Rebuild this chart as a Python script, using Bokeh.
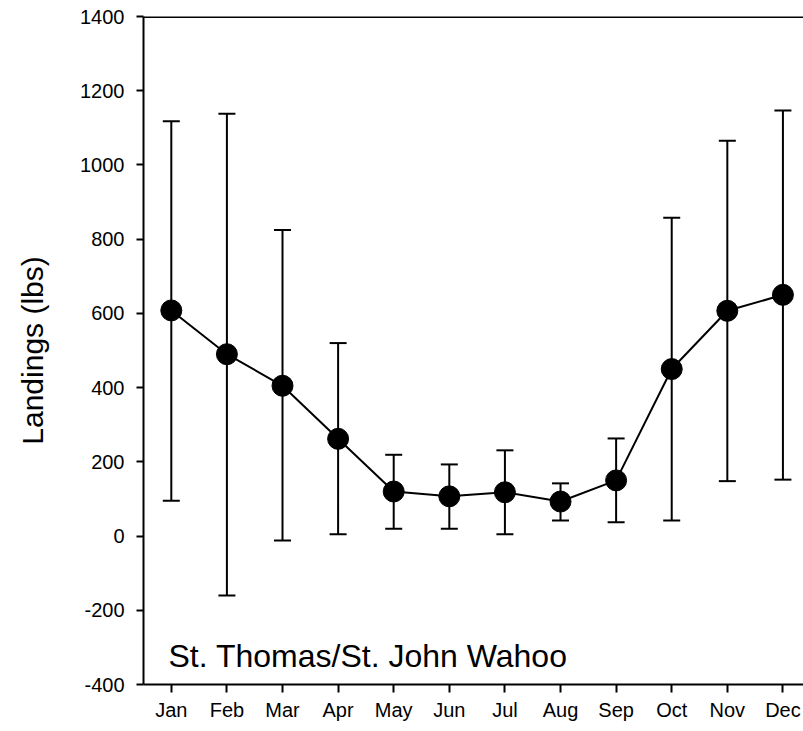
from bokeh.plotting import figure
from bokeh.models import (ColumnDataSource, Whisker, TeeHead, FixedTicker, Span, Label)
from bokeh.embed import file_html
from bokeh.resources import INLINE

months = ["Jan", "Feb", "Mar", "Apr", "May", "Jun", "Jul", "Aug", "Sep", "Oct", "Nov", "Dec"]
mean_lbs = [608, 490, 405, 262, 120, 107, 118, 93, 150, 450, 607, 650]
upper_lbs = [1118, 1138, 825, 520, 219, 193, 231, 142, 263, 858, 1065, 1147]
lower_lbs = [95, -160, -12, 5, 20, 20, 5, 42, 37, 42, 148, 152]
y_ticks = [-400, -200, 0, 200, 400, 600, 800, 1000, 1200, 1400]
y_tick_labels = ["-400", "-200", "0", "200", "400", "600", "800", "1000", "1200", "1400"]
title_text = "St. Thomas/St. John Wahoo"
y_label = "Landings (lbs)"

xs = list(range(1, len(months) + 1))
src = ColumnDataSource(dict(x=xs, mean=mean_lbs, upper=upper_lbs, lower=lower_lbs))

FONT = "Liberation Sans"

p = figure(width=803, height=729, output_backend="svg", toolbar_location=None,
           x_range=(0.5, 12.37), y_range=(-400, 1400),
           min_border_left=143, min_border_right=0, min_border_top=16, min_border_bottom=45)
p.outline_line_color = None
p.grid.visible = False
p.background_fill_color = "white"
p.border_fill_color = "white"

for ax in (p.xaxis, p.yaxis):
    ax.minor_tick_line_color = None
    ax.major_tick_in = 0
    ax.major_tick_line_width = 2
    ax.major_tick_line_color = "black"
    ax.axis_line_width = 2
    ax.axis_line_color = "black"
    ax.major_label_text_font = FONT
    ax.major_label_text_font_size = "20px"
    ax.major_label_text_color = "black"

# x axis
p.xaxis.ticker = FixedTicker(ticks=xs)
p.xaxis.major_label_overrides = {x: m for x, m in zip(xs, months)}
p.xaxis.major_tick_out = 8
p.xaxis.major_label_standoff = 6

# y axis
p.yaxis.ticker = FixedTicker(ticks=y_ticks)
p.yaxis.major_label_overrides = {t: l for t, l in zip(y_ticks, y_tick_labels)}
p.yaxis.major_tick_out = 7
p.yaxis.major_label_standoff = 12
p.yaxis.axis_label = y_label
p.yaxis.axis_label_text_font = FONT
p.yaxis.axis_label_text_font_style = "normal"
p.yaxis.axis_label_text_font_size = "30px"
p.yaxis.axis_label_text_color = "black"
p.yaxis.axis_label_standoff = 28

# top frame line
p.add_layout(Span(location=1400, dimension="width", line_color="black", line_width=3))

# error bars
w = Whisker(base="x", upper="upper", lower="lower", source=src,
            line_color="black", line_width=2,
            upper_head=TeeHead(size=17, line_color="black", line_width=2),
            lower_head=TeeHead(size=17, line_color="black", line_width=2))
p.add_layout(w)

p.line("x", "mean", source=src, line_color="black", line_width=2)
p.scatter("x", "mean", source=src, size=21, fill_color="black", line_color="black")

p.add_layout(Label(x=0.95, y=-322, text=title_text, text_font=FONT,
                   text_font_size="32px", text_color="black", text_baseline="alphabetic"))

open("out.html", "w").write(file_html(p, INLINE))
